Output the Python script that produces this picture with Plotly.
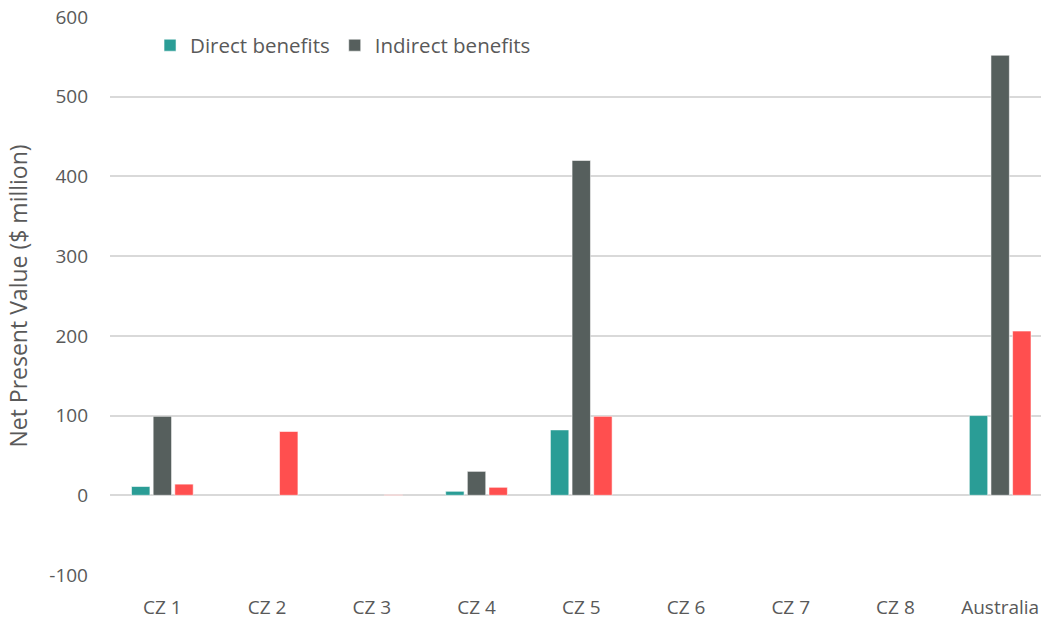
import plotly.graph_objects as go

categories = ["CZ 1", "CZ 2", "CZ 3", "CZ 4", "CZ 5", "CZ 6", "CZ 7", "CZ 8", "Australia"]
direct = [11, None, None, 5, 82, None, None, None, 100]
indirect = [99, None, None, 30, 420, None, None, None, 552]
third = [14, 80, 0.6, 10, 99, None, None, None, 206]

y_ticks = [-100, 0, 100, 200, 300, 400, 500, 600]
y_tick_text = ["-100", "0", "100", "200", "300", "400", "500", "600"]

font_family = "Open Sans, Noto Sans, sans-serif"
text_color = "#595959"
grid_color = "#d9d9d9"

fig = go.Figure()
fig.add_trace(go.Bar(x=categories, y=direct, name="Direct benefits",
                     marker=dict(color="#2A9D96", line=dict(color="rgba(255,255,255,0.55)", width=1))))
fig.add_trace(go.Bar(x=categories, y=indirect, name="Indirect benefits",
                     marker=dict(color="#565F5D", line=dict(color="rgba(255,255,255,0.55)", width=1))))
fig.add_trace(go.Bar(x=categories, y=third, name="Total benefits", showlegend=False,
                     marker=dict(color="#FF4F4F", line=dict(color="rgba(255,255,255,0.55)", width=1))))

fig.update_layout(
    width=1041, height=621,
    margin=dict(l=110, r=0, t=17, b=46),
    paper_bgcolor="white", plot_bgcolor="white",
    barmode="group", bargap=0.38, bargroupgap=0.15,
    font=dict(family=font_family, color=text_color, size=19),
    legend=dict(orientation="h", x=0.043, y=0.985, xanchor="left", yanchor="top",
                font=dict(size=20.5, color=text_color), bgcolor="rgba(0,0,0,0)",
                itemwidth=30, traceorder="normal"),
    xaxis=dict(type="category", range=[-0.5, 8.39], showgrid=False, showline=False,
               automargin=False, ticks="", ticklabelstandoff=19,
               tickfont=dict(size=19, color=text_color)),
    yaxis=dict(range=[-100, 600], tickvals=y_ticks, ticktext=y_tick_text, showgrid=True,
               gridcolor=grid_color, gridwidth=1.5, zeroline=True, zerolinecolor=grid_color,
               zerolinewidth=1.5, showline=False, ticks="", ticklabelstandoff=21,
               automargin=False,
               tickfont=dict(size=19, color=text_color),
               title=dict(text="Net Present Value ($ million)", font=dict(size=23, color=text_color),
                          standoff=15)),
)

fig.write_html("out.html", config={"displayModeBar": False},
               post_script="document.body.style.margin='0';document.body.style.padding='0';")
